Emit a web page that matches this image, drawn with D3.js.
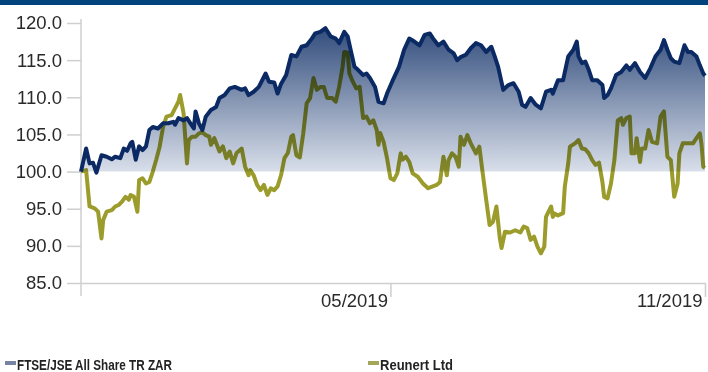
<!DOCTYPE html>
<html>
<head>
<meta charset="utf-8">
<script src="https://cdn.jsdelivr.net/npm/d3@7/dist/d3.min.js"></script>
<style>
  html, body { margin: 0; padding: 0; background: #fff; }
  svg { display: block; }
</style>
</head>
<body>
<svg id="chart" width="708" height="372"></svg>
<script>
// ---- data ----
const startDate = "2018-11-01";
const endDate = "2019-11-01";
const seriesNames = ["FTSE/JSE All Share TR ZAR", "Reunert Ltd"];
const yTickValues = [85, 90, 95, 100, 105, 110, 115, 120];
const xTickDates = ["2019-05-01", "2019-11-01"];

const ftseDays = [0,3,5,7,9,12,15,18,20,23,25,27,29,30,32,34,36,38,40,42,45,48,51,54,55,57,60,62,64,66,67,69,71,73,76,79,81,84,87,90,94,96,98,101,104,108,110,113,115,117,120,123,126,129,132,135,137,140,143,146,149,151,154,156,158,160,162,165,167,169,172,174,177,179,182,186,189,192,195,198,201,204,206,209,212,215,218,220,222,225,228,231,234,237,240,242,244,247,250,253,256,258,260,263,266,269,272,275,276,279,282,285,288,290,291,293,295,297,299,302,305,306,308,310,313,316,319,321,324,327,330,333,336,339,341,343,345,347,350,353,355,357,360,362,364,365];
const ftseValues = [100.0,103.1,101.1,101.2,99.85,102.2,102.0,101.65,102.0,101.8,103.1,102.8,103.8,104.0,101.6,103.4,102.9,103.4,105.6,106.0,105.8,106.5,106.5,106.7,106.3,107.2,106.9,107.2,106.5,105.8,108.1,106.5,105.6,107.4,108.3,108.7,109.9,110.3,111.2,111.4,111.0,111.2,110.3,110.75,111.4,113.2,112.1,112.0,110.5,111.8,113.0,115.7,115.5,116.8,117.0,117.9,118.6,118.8,119.3,118.2,117.9,117.3,118.8,118.2,116.1,114.1,113.7,113.0,113.2,112.6,111.4,109.4,109.2,110.5,112.1,114.1,116.4,117.9,117.5,117.0,118.4,118.6,117.9,117.0,117.5,116.4,115.9,115.0,115.4,115.7,116.6,117.3,117.0,116.1,116.8,115.5,114.1,111.0,111.65,111.9,110.75,109.0,108.7,109.9,109.0,108.5,110.75,111.0,110.5,112.3,112.3,115.5,116.4,117.5,115.5,114.6,114.8,113.7,112.3,112.3,111.65,109.9,110.3,111.2,113.0,113.4,114.3,113.7,114.6,113.4,112.6,113.9,115.5,116.4,117.7,116.4,115.25,114.8,114.6,117.0,116.1,116.1,115.5,114.3,113.2,112.9];

const reunertDays = [0,3,5,8,10,12,13,15,18,20,22,24,26,28,29,31,33,34,36,38,40,42,44,46,48,50,53,55,57,58,60,62,63,65,67,69,71,73,75,76,78,81,83,85,87,89,91,94,96,98,99,101,103,105,107,109,111,113,115,117,119,121,123,124,126,128,130,132,134,136,138,140,142,144,147,149,151,153,154,156,157,159,161,163,165,167,169,171,173,174,175,177,179,181,183,185,187,188,190,192,194,197,200,203,205,208,210,212,214,215,217,219,221,222,224,226,228,231,233,235,237,239,241,243,245,246,248,251,254,257,259,261,263,265,267,269,271,272,275,276,277,279,282,283,285,286,289,291,293,295,297,299,301,303,305,306,308,310,312,314,316,317,319,321,322,324,325,327,328,330,332,334,337,339,341,343,345,347,349,350,352,355,358,360,362,363,364,365];
const reunertValues = [100.0,100.2,95.3,95.05,94.6,91.0,93.5,94.6,94.8,95.3,95.5,95.95,96.6,96.2,96.85,96.6,94.6,98.85,99.1,98.4,98.6,100.0,101.6,103.35,106.0,107.4,107.6,108.5,109.4,110.3,107.85,101.1,104.25,104.7,104.7,105.15,105.3,104.9,104.7,103.6,104.5,102.7,103.4,101.8,102.7,101.1,102.5,103.1,100.65,99.5,100.2,99.5,98.2,97.5,98.2,96.85,97.75,97.5,98.0,99.5,101.8,102.5,104.7,104.9,102.2,101.9,105.15,109.2,109.9,112.6,111.0,111.4,111.4,109.9,109.9,109.4,111.4,114.1,116.1,116.0,113.2,112.1,111.2,111.4,107.2,107.4,106.5,106.9,105.6,103.6,105.2,104.0,101.8,99.1,98.85,99.75,102.45,101.6,102.0,101.3,99.75,99.3,98.4,97.75,97.95,98.2,98.6,102.0,99.5,101.55,102.45,102.0,100.65,104.7,103.6,104.9,103.8,102.45,103.35,99.75,96.2,92.8,93.25,95.3,91.0,89.7,91.9,91.8,92.1,91.8,92.6,92.4,90.8,91.25,89.9,89.0,89.9,93.9,95.3,93.9,94.35,94.1,94.4,98.0,101.1,103.35,103.8,104.25,103.1,103.0,102.45,101.55,100.9,101.2,98.6,96.6,96.4,98.4,101.55,106.9,107.2,106.3,107.2,107.4,102.45,102.45,104.5,101.3,103.1,103.1,105.6,104.0,103.8,107.4,108.1,102.0,101.55,96.6,98.4,102.45,103.8,103.8,103.8,104.5,105.15,103.6,100.65,100.5];

// ---- build ----
const parse = d3.timeParse("%Y-%m-%d");
const t0 = parse(startDate);
const toDate = d => d3.timeDay.offset(t0, d);
const ftse = ftseDays.map((d, i) => ({ date: toDate(d), value: ftseValues[i] }));
const reunert = reunertDays.map((d, i) => ({ date: toDate(d), value: reunertValues[i] }));

const svg = d3.select("#chart");
const W = 708, H = 372;
const plotLeft = 81, plotRight = 705, plotTop = 23, plotBottom = 283;

const x = d3.scaleTime().domain([t0, parse(endDate)]).range([plotLeft, plotRight]);
const y = d3.scaleLinear().domain([85, 120]).range([plotBottom, plotTop]);

// top band
svg.append("rect").attr("x", 0).attr("y", 0).attr("width", W).attr("height", 5).attr("fill", "#00437d");

// gradient
const defs = svg.append("defs");
const grad = defs.append("linearGradient").attr("id", "areaGrad")
  .attr("gradientUnits", "userSpaceOnUse")
  .attr("x1", 0).attr("x2", 0).attr("y1", y(119.5)).attr("y2", y(100));
grad.append("stop").attr("offset", "0%").attr("stop-color", "#304b7b");
grad.append("stop").attr("offset", "100%").attr("stop-color", "#d9dfea");

// axes
const yAxis = d3.axisLeft(y).tickValues(yTickValues).tickFormat(d3.format(".1f")).tickSize(14).tickPadding(5);
const gy = svg.append("g").attr("transform", `translate(${plotLeft},0)`).call(yAxis);
gy.select(".domain").remove();
gy.selectAll(".tick line").attr("stroke", "#cfcfcf").attr("stroke-width", 1.5);
gy.selectAll(".tick text").attr("fill", "#2a2a2a").style("font-family", "'Liberation Sans', Arial, sans-serif").style("font-size", "18.5px");

svg.append("line").attr("x1", plotLeft).attr("x2", plotLeft).attr("y1", 19).attr("y2", 296)
  .attr("stroke", "#cfcfcf").attr("stroke-width", 1.5);

const xAxis = d3.axisBottom(x).tickValues(xTickDates.map(parse)).tickFormat(d3.timeFormat("%m/%Y")).tickSize(14).tickSizeOuter(0);
const gx = svg.append("g").attr("transform", `translate(0,${plotBottom})`).call(xAxis);
gx.select(".domain").attr("stroke", "#cfcfcf").attr("stroke-width", 1.5);
gx.selectAll(".tick line").attr("stroke", "#cfcfcf").attr("stroke-width", 1.5);
gx.selectAll(".tick text").attr("fill", "#2a2a2a").attr("text-anchor", "end").attr("x", -3).attr("y", 11).attr("dy", "0.71em")
  .style("font-family", "'Liberation Sans', Arial, sans-serif").style("font-size", "18.5px");

// area for FTSE
const area = d3.area().x(d => x(d.date)).y0(y(100)).y1(d => y(d.value));
svg.append("path").datum(ftse).attr("d", area).attr("fill", "url(#areaGrad)");

// lines
const line = d3.line().x(d => x(d.date)).y(d => y(d.value));
svg.append("path").datum(reunert).attr("d", line).attr("fill", "none")
  .attr("stroke", "#9c9c2c").attr("stroke-width", 4).attr("stroke-linejoin", "round")
  .style("mix-blend-mode", "multiply");
svg.append("path").datum(ftse).attr("d", line).attr("fill", "none")
  .attr("stroke", "#0b2a63").attr("stroke-width", 4).attr("stroke-linejoin", "round");

// legend
const legend = [
  { name: seriesNames[0], color: "#7683a2", mx: 5, tx: 17, len: 155 },
  { name: seriesNames[1], color: "#a5a65a", mx: 368, tx: 380, len: 73 }
];
legend.forEach(l => {
  svg.append("rect").attr("x", l.mx).attr("y", 361).attr("width", 11).attr("height", 4).attr("fill", l.color);
  svg.append("text").attr("x", l.tx).attr("y", 370).text(l.name)
    .attr("textLength", l.len).attr("lengthAdjust", "spacingAndGlyphs")
    .attr("fill", "#222").style("font-family", "'Liberation Sans', Arial, sans-serif")
    .style("font-size", "14px").style("font-weight", "bold");
});
</script>
</body>
</html>
